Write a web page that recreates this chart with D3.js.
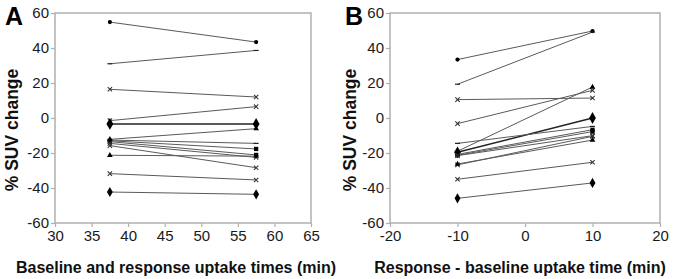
<!DOCTYPE html>
<html lang="en">
<head>
<meta charset="UTF-8">
<title>SUV change</title>
<script src="https://d3js.org/d3.v7.min.js"></script>
<style>
  body { margin: 0; background: #fff; }
  svg { font-family: "Liberation Sans", Arial, sans-serif; }
</style>
</head>
<body>
<div id="chart"></div>
<script>
// marker used by each patient line (same order in both panels)
const markers = ["circle", "dash", "x", "x", "bigdiamond", "triangle", "dash",
                 "square", "square", "x", "x", "triangle", "x", "diamond"];

// panel A: % SUV change at baseline (37.5 min) and response (57.5 min)
const aTimes = [37.5, 57.5];
const aBaseline = [54.8, 31.0, 16.4, -1.5, -3.4, -12.2, -12.6, -13.0, -13.5, -14.5, -15.8, -21.3, -31.8, -42.3];
const aResponse = [43.4, 38.6, 12.0, 6.5, -3.4, -6.1, -14.5, -17.7, -21.1, -22.5, -28.4, -21.8, -35.4, -43.6];

// panel B: % SUV change vs response - baseline uptake time
const bTimes = [-10, 10];
const bBaseline = [33.4, 19.3, 10.5, -3.2, -19.6, -19.0, -14.5, -20.8, -21.3, -21.5, -26.8, -26.3, -35.0, -45.9];
const bResponse = [49.7, 49.1, 11.4, 15.8, 0.0, 17.7, -4.8, -6.7, -7.8, -10.1, -10.5, -12.6, -25.3, -37.1];

const yTicks = [-60, -40, -20, 0, 20, 40, 60];
const aXTicks = [30, 35, 40, 45, 50, 55, 60, 65];
const bXTicks = [-20, -10, 0, 10, 20];

const svg = d3.select("#chart").append("svg")
    .attr("width", 675).attr("height", 279);

function panel(opts) {
    const x = d3.scaleLinear().domain(opts.xDomain).range([opts.left, opts.right]);
    const y = d3.scaleLinear().domain([-60, 60]).range([223, 13]);
    const g = svg.append("g");

    // frame
    g.append("rect")
        .attr("x", opts.left).attr("y", 13)
        .attr("width", opts.right - opts.left).attr("height", 210)
        .attr("fill", "none").attr("stroke", "#b0b0b0").attr("stroke-width", 1.5);

    const yAxis = g.append("g")
        .attr("transform", `translate(${opts.left},0)`)
        .call(d3.axisLeft(y).tickValues(yTicks).tickFormat(d => String(d)).tickSize(4).tickPadding(2));
    const xAxis = g.append("g")
        .attr("transform", "translate(0,223)")
        .call(d3.axisBottom(x).tickValues(opts.xTicks).tickFormat(d => String(d)).tickSize(4).tickPadding(3));
    [yAxis, xAxis].forEach(ax => {
        ax.select(".domain").remove();
        ax.selectAll("line").attr("stroke", "#b0b0b0").attr("stroke-width", 1.2);
        ax.selectAll("text").attr("font-size", 15).attr("fill", "#1a1a1a")
            .attr("font-family", "'Liberation Sans', Arial, sans-serif");
    });

    // lines
    opts.base.forEach((v, i) => {
        const bold = markers[i] === "bigdiamond";
        g.append("line")
            .attr("x1", x(opts.times[0])).attr("y1", y(v))
            .attr("x2", x(opts.times[1])).attr("y2", y(opts.resp[i]))
            .attr("stroke", bold ? "#222" : "#5a5a5a")
            .attr("stroke-width", bold ? 1.5 : 1);
    });

    // markers
    opts.base.forEach((v, i) => {
        [[opts.times[0], v], [opts.times[1], opts.resp[i]]].forEach(p => {
            drawMarker(g, markers[i], x(p[0]), y(p[1]));
        });
    });

    // axis titles and panel letter
    g.append("text")
        .attr("x", opts.xLabelX).attr("y", 273)
        .attr("text-anchor", "middle").attr("font-weight", "bold").attr("font-size", 16)
        .attr("fill", "#111").text(opts.xLabel);
    g.append("text")
        .attr("transform", `translate(${opts.yLabelX},130) rotate(-90)`)
        .attr("text-anchor", "middle").attr("font-weight", "bold").attr("font-size", 17.5)
        .attr("fill", "#111").text("% SUV change");
    g.append("text")
        .attr("x", opts.letterX).attr("y", 25)
        .attr("font-weight", "bold").attr("font-size", 25)
        .attr("fill", "#000").text(opts.letter);
}

function drawMarker(g, type, cx, cy) {
    if (type === "dash") {
        g.append("line").attr("x1", cx - 2.5).attr("x2", cx + 2.5)
            .attr("y1", cy).attr("y2", cy).attr("stroke", "#222").attr("stroke-width", 1.2);
        return;
    }
    const sym = {
        circle: [d3.symbolCircle, 14],
        x: [d3.symbolX, 14],
        bigdiamond: [d3.symbolDiamond, 40],
        diamond: [d3.symbolDiamond, 30],
        square: [d3.symbolSquare, 18],
        triangle: [d3.symbolTriangle, 14]
    }[type];
    const path = g.append("path")
        .attr("transform", `translate(${cx},${cy})`)
        .attr("d", d3.symbol().type(sym[0]).size(sym[1])());
    if (type === "x") path.attr("fill", "none").attr("stroke", "#333").attr("stroke-width", 1.1);
    else path.attr("fill", "#000");
}

panel({
    left: 55, right: 311, xDomain: [30, 65], xTicks: aXTicks,
    times: aTimes, base: aBaseline, resp: aResponse,
    xLabel: "Baseline and response uptake times (min)", xLabelX: 176,
    yLabelX: 18, letter: "A", letterX: 5
});
panel({
    left: 390, right: 660, xDomain: [-20, 20], xTicks: bXTicks,
    times: bTimes, base: bBaseline, resp: bResponse,
    xLabel: "Response - baseline uptake time (min)", xLabelX: 520,
    yLabelX: 356, letter: "B", letterX: 345
});
</script>
</body>
</html>
